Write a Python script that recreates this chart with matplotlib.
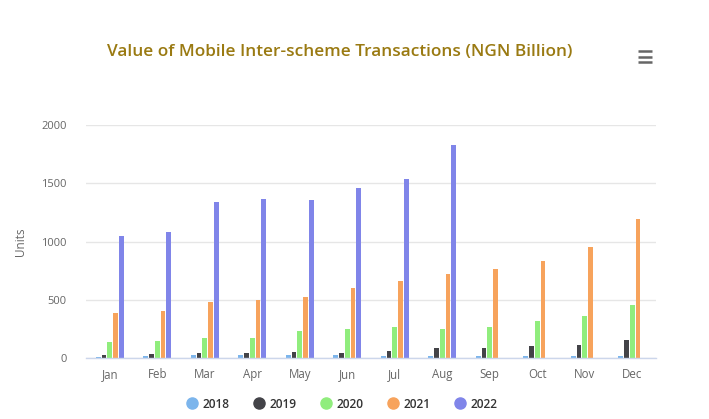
import matplotlib
matplotlib.use("Agg")
import matplotlib.pyplot as plt
from matplotlib.lines import Line2D
import numpy as np

months = ["Jan", "Feb", "Mar", "Apr", "May", "Jun", "Jul", "Aug", "Sep", "Oct", "Nov", "Dec"]
years = ["2018", "2019", "2020", "2021", "2022"]
v2018 = [11, 20, 23, 23, 23, 23, 20, 20, 20, 20, 20, 20]
v2019 = [23, 31, 40, 40, 49, 40, 57, 83, 83, 100, 109, 151]
v2020 = [134, 143, 169, 169, 229, 246, 269, 251, 269, 320, 363, 457]
v2021 = [389, 406, 483, 500, 523, 600, 657, 717, 766, 834, 949, 1194]
v2022 = [1049, 1083, 1337, 1369, 1360, 1463, 1540, 1829, None, None, None, None]
series = [v2018, v2019, v2020, v2021, v2022]
colors = ["#7cb5ec", "#434348", "#90ed7d", "#f7a35c", "#8085e9"]

plt.rcParams['font.family'] = ['Open Sans', 'DejaVu Sans']

fig = plt.figure(figsize=(7.09, 4.19), dpi=100)
ax = fig.add_axes([86/709, 1-358/419, (656-86)/709, (358-125)/419])

x = np.arange(len(months))
slot = 0.12
bw = 0.1
for i, (vals, c) in enumerate(zip(series, colors)):
    xs = [xi - 0.3 + slot*(i+0.5) for xi, v in zip(x, vals) if v is not None]
    ys = [v for v in vals if v is not None]
    ax.bar(xs, ys, width=bw, color=c, edgecolor="none", linewidth=0, zorder=3)

ax.set_xlim(-0.5, 11.5)
ax.set_ylim(0, 2000)
ax.set_yticks([0, 500, 1000, 1500, 2000])
ax.set_xticks(x)
ax.set_xticklabels(months)
ax.grid(axis="y", color="#e6e6e6", linewidth=1, zorder=0)
for s in ["top", "right", "left"]:
    ax.spines[s].set_visible(False)
ax.spines["bottom"].set_color("#ccd6eb")
ax.spines["bottom"].set_linewidth(1)
ax.spines["bottom"].set_zorder(4)
ax.tick_params(axis="y", length=0, labelsize=8, labelcolor="#666666", pad=14)
ax.tick_params(axis="x", length=0, labelsize=8.3, labelcolor="#666666", pad=7)
ax.set_ylabel("Units", fontsize=8.5, color="#666666", labelpad=10)

fig.text(340/709, 1-52/419, "Value of Mobile Inter-scheme Transactions (NGN Billion)",
         ha="center", va="center", fontsize=12.4, fontweight="semibold", color="#9a7a12")

# menu icon
for yy in [51.5, 57, 62.5]:
    fig.add_artist(Line2D([637.5/709, 651.5/709], [1-yy/419, 1-yy/419], color="#666666",
                          linewidth=1.8, solid_capstyle="butt"))

handles = [Line2D([0], [0], marker="o", linestyle="none", markersize=8,
                  markerfacecolor=c, markeredgecolor=c) for c in colors]
leg = fig.legend(handles, years, loc="center", bbox_to_anchor=(342/709, 1-404/419),
                 ncol=5, frameon=False, fontsize=8.6, handletextpad=0.4,
                 columnspacing=1.95, handlelength=1.0)
for t in leg.get_texts():
    t.set_color("#333333")
    t.set_fontweight("semibold")

fig.savefig("out.png", dpi=100, facecolor="white")
